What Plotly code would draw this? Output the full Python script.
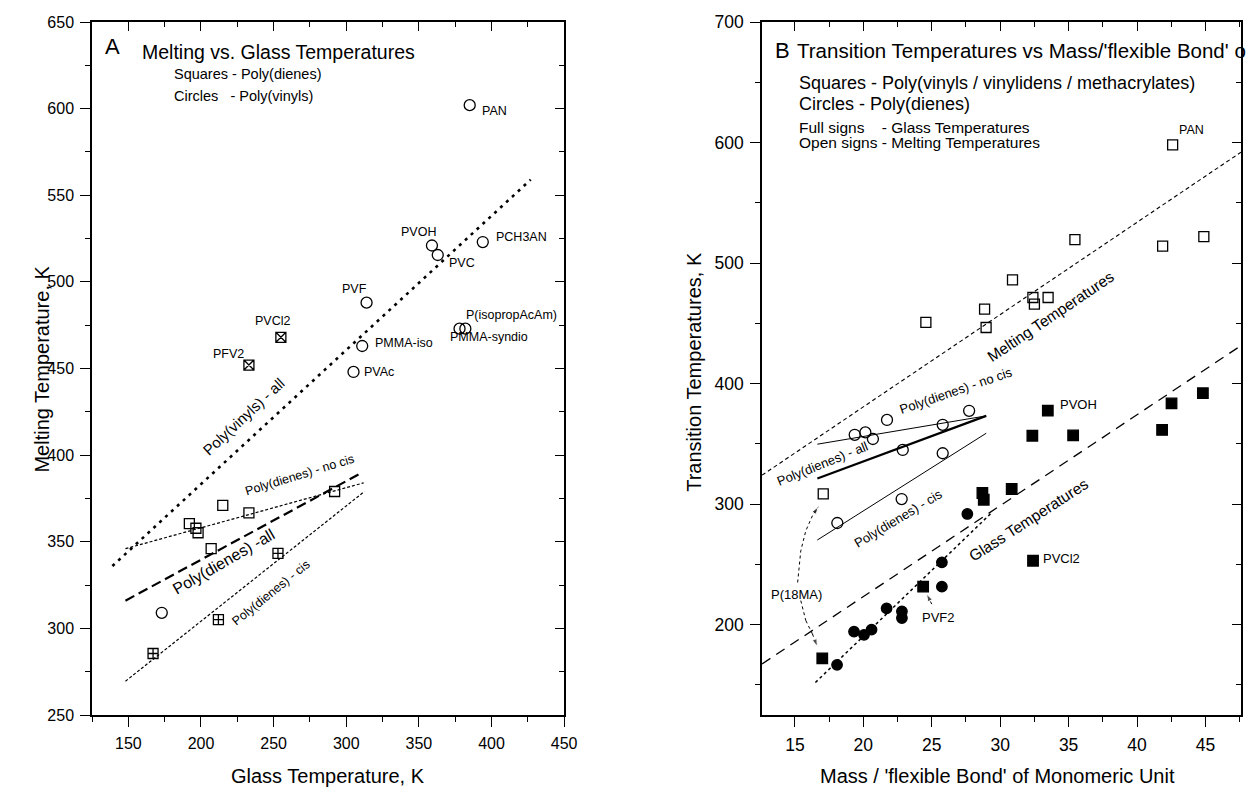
import plotly.graph_objects as go

FONT = "Liberation Sans, Arial, Helvetica, sans-serif"
W, H = 1260, 789
MT, MB = 22, 74

# ---------------- Panel A data ----------------
vinyl_names = ["PAN", "PCH3AN", "PVOH", "PVC", "PVF", "PMMA-iso", "PVAc", "P(isopropAcAm)", "PMMA-syndio", ""]
vinyl_tg = [385, 394, 359, 363, 314, 311, 305, 382, 378, 173]
vinyl_tm = [602, 523, 521, 515.5, 488, 463, 448, 473, 473, 309]

vinylidene_names = ["PVCl2", "PFV2"]
vinylidene_tg = [255, 233]
vinylidene_tm = [468, 452]

diene_tg = [192, 196.5, 198, 207, 215, 233, 292]
diene_tm = [360.5, 357.8, 355.2, 346, 371, 366.7, 379]

cis_diene_tg = [167, 212, 253]
cis_diene_tm = [285.5, 305, 343.3]

fitA_vinyl_x = [139, 427]
fitA_vinyl_y = [336, 559]
fitA_dienes_all_x = [148, 311]
fitA_dienes_all_y = [316, 390]
fitA_dienes_nocis_x = [148, 312]
fitA_dienes_nocis_y = [346, 384]
fitA_dienes_cis_x = [148, 312.5]
fitA_dienes_cis_y = [269.5, 379]

# point labels (text, x, y, anchor)
labelsA = [
    ("PAN", 392.3, 598.4, "left"),
    ("PCH3AN", 401.9, 526, "left"),
    ("PVOH", 349.7, 529, "center"),
    ("PVC", 369.6, 511, "left"),
    ("PVF", 305.7, 495.7, "center"),
    ("PVCl2", 249.2, 477.5, "center"),
    ("PFV2", 218.9, 458.5, "center"),
    ("PMMA-iso", 318.3, 464.6, "left"),
    ("PVAc", 311, 448, "left"),
    ("P(isopropAcAm)", 381.4, 481, "left"),
    ("PMMA-syndio", 369.8, 468, "left"),
]
# rotated line labels (text, x, y, angle, size)
lineLabelsA = [
    ("Poly(vinyls) - all", 229.3, 422.4, -43, 15),
    ("Poly(dienes) -all", 215.7, 338.8, -30, 16),
    ("Poly(dienes) - no cis", 268, 388.8, -17, 12.5),
    ("Poly(dienes) - cis", 248, 320.6, -39, 12.5),
]

# ---------------- Panel B data ----------------
vinyl_tm_mass = [17.07, 24.57, 28.86, 28.97, 30.9, 32.39, 32.5, 33.5, 35.46, 41.87, 44.88, 42.6]
vinyl_tm_B = [308.4, 450.7, 461.8, 446.5, 486.1, 471.4, 465.9, 471.4, 519.5, 514, 522, 598]

vinyl_tg_mass = [17.0, 24.37, 28.7, 28.8, 30.84, 32.35, 32.4, 33.48, 35.33, 41.83, 42.52, 44.81]
vinyl_tg_B = [172, 231.5, 309.2, 303.6, 312.5, 356.7, 253, 377.5, 357, 361.5, 383.5, 392]

diene_tm_mass = [18.1, 22.8, 19.37, 20.15, 20.7, 21.73, 25.8, 27.73, 22.88, 25.8]
diene_tm_B = [284.3, 304.2, 357.5, 359.5, 354, 369.8, 365.8, 377.4, 344.9, 342.2]

diene_tg_mass = [18.08, 19.32, 20.05, 20.6, 21.7, 22.82, 22.82, 25.74, 25.74, 27.6]
diene_tg_B = [166.6, 194.2, 191.5, 195.9, 213.5, 211, 205.5, 251.7, 231.5, 291.8]

fitB_melt_x = [12.6, 47.6]
fitB_melt_y = [324, 592]
fitB_glass_x = [12.6, 47.6]
fitB_glass_y = [167.4, 431.5]
fitB_glassdata_x = [16.5, 29.3]
fitB_glassdata_y = [152, 292]
fitB_nocis_x = [16.64, 28.98]
fitB_nocis_y = [349.7, 373.2]
fitB_all_x = [16.64, 28.98]
fitB_all_y = [321.3, 373.2]
fitB_cis_x = [16.64, 28.98]
fitB_cis_y = [270.2, 358.8]

labelsB = [
    ("PAN", 44.0, 610, 12.5),
    ("PVOH", 35.7, 382.4, 13),
    ("PVCl2", 34.47, 255.2, 13),
    ("PVF2", 25.5, 205.5, 13),
    ("P(18MA)", 15.15, 225.4, 13),
]
lineLabelsB = [
    ("Melting Temperatures", 33.67, 455.9, -34, 15.5),
    ("Glass Temperatures", 32.1, 287.6, -33, 15.5),
    ("Poly(dienes) - no cis", 26.8, 394, -19, 13),
    ("Poly(dienes) - all", 17.05, 333.7, -22, 13),
    ("Poly(dienes) - cis", 22.54, 288.4, -31, 13),
]
# dotted pointer paths
arrow_up_x = [15.2, 15.43, 15.8, 16.28, 16.71]
arrow_up_y = [235, 261.3, 277.9, 290.3, 297.8]
arrow_dn_x = [15.43, 15.8, 16.28, 16.64]
arrow_dn_y = [219.9, 203.3, 192.3, 181.8]
arrow_pvf2_x = [25.0, 24.62]
arrow_pvf2_y = [217, 225.4]

rangeA_x = [125, 450]
rangeA_y = [250, 650]
rangeB_x = [12.6, 47.6]
rangeB_y = [125, 700]

fig = go.Figure()


def line(x, y, xa, ya, dash, width):
    fig.add_trace(go.Scatter(x=x, y=y, xaxis=xa, yaxis=ya, mode="lines",
                             line=dict(color="black", dash=dash, width=width),
                             hoverinfo="skip", showlegend=False))


def pts(x, y, xa, ya, symbol, size, lw=1.3):
    fig.add_trace(go.Scatter(x=x, y=y, xaxis=xa, yaxis=ya, mode="markers",
                             marker=dict(symbol=symbol, size=size, color="black",
                                         line=dict(color="black", width=lw)),
                             showlegend=False))


# Panel A lines
line(fitA_vinyl_x, fitA_vinyl_y, "x", "y", "3px,5px", 2.6)
line(fitA_dienes_all_x, fitA_dienes_all_y, "x", "y", "10px,5px", 2.2)
line(fitA_dienes_nocis_x, fitA_dienes_nocis_y, "x", "y", "3px,2px", 1.2)
line(fitA_dienes_cis_x, fitA_dienes_cis_y, "x", "y", "3px,2px", 1.2)
# Panel A points
pts(vinyl_tg, vinyl_tm, "x", "y", "circle-open", 11)
pts(vinylidene_tg, vinylidene_tm, "x", "y", "square-x-open", 10)
pts(diene_tg, diene_tm, "x", "y", "square-open", 10)
pts(cis_diene_tg, cis_diene_tm, "x", "y", "square-cross-open", 10)

# Panel B lines
line(fitB_melt_x, fitB_melt_y, "x2", "y2", "4px,3px", 1.1)
line(fitB_glass_x, fitB_glass_y, "x2", "y2", "10px,7px", 1.3)
line(fitB_glassdata_x, fitB_glassdata_y, "x2", "y2", "dot", 1.5)
line(fitB_nocis_x, fitB_nocis_y, "x2", "y2", "solid", 1.0)
line(fitB_all_x, fitB_all_y, "x2", "y2", "solid", 2.2)
line(fitB_cis_x, fitB_cis_y, "x2", "y2", "solid", 1.0)
# pointers
for ax_, ay_ in [(arrow_up_x, arrow_up_y), (arrow_dn_x, arrow_dn_y), (arrow_pvf2_x, arrow_pvf2_y)]:
    n = len(ax_)
    fig.add_trace(go.Scatter(x=ax_, y=ay_, xaxis="x2", yaxis="y2", mode="lines+markers",
                             line=dict(color="black", dash="dot", width=1),
                             marker=dict(symbol="arrow", size=[0] * (n - 1) + [8],
                                         angleref="previous", color="black"),
                             hoverinfo="skip", showlegend=False))
# Panel B points
pts(vinyl_tm_mass, vinyl_tm_B, "x2", "y2", "square-open", 10)
pts(vinyl_tg_mass, vinyl_tg_B, "x2", "y2", "square", 10.5)
pts(diene_tm_mass, diene_tm_B, "x2", "y2", "circle-open", 11)
pts(diene_tg_mass, diene_tg_B, "x2", "y2", "circle", 10.5)

# invisible traces to register mirror-tick axes
fig.add_trace(go.Scatter(x=rangeA_x, y=rangeA_y, xaxis="x3", yaxis="y3", mode="markers",
                         marker=dict(opacity=0), hoverinfo="skip", showlegend=False))
fig.add_trace(go.Scatter(x=rangeB_x, y=rangeB_y, xaxis="x4", yaxis="y4", mode="markers",
                         marker=dict(opacity=0), hoverinfo="skip", showlegend=False))

domA = [93 / W, 570 / W]
domB = [770 / W, 1254 / W]

common = dict(showgrid=False, zeroline=False, showline=True, linecolor="black", linewidth=1.6,
              tickcolor="black", tickwidth=1.3)


def main_axis(rng, dtick, mdtick, size, **kw):
    d = dict(common)
    d.update(range=rng, dtick=dtick, tick0=0, ticks="outside", ticklen=10,
             tickfont=dict(family=FONT, size=size, color="black"), ticklabelstandoff=3,
             minor=dict(dtick=mdtick, tick0=0, ticks="outside", ticklen=5, tickcolor="black", tickwidth=1.1))
    d.update(kw)
    return d


def mirror_axis(rng, dtick, mdtick, **kw):
    d = dict(common)
    d.update(range=rng, dtick=dtick, tick0=0, ticks="inside", ticklen=9, showticklabels=False,
             minor=dict(dtick=mdtick, tick0=0, ticks="inside", ticklen=5, tickcolor="black", tickwidth=1.1))
    d.update(kw)
    return d


fig.update_layout(
    width=W, height=H, autosize=False,
    margin=dict(l=0, r=0, t=MT, b=MB, pad=0),
    paper_bgcolor="white", plot_bgcolor="white",
    showlegend=False,
    font=dict(family=FONT, color="black"),
    xaxis=main_axis(rangeA_x, 50, 25, 16, domain=domA, anchor="y"),
    yaxis=main_axis(rangeA_y, 50, 25, 16, domain=[0, 1], anchor="x"),
    xaxis2=main_axis(rangeB_x, 5, 2.5, 17.5, domain=domB, anchor="y2"),
    yaxis2=main_axis(rangeB_y, 100, 50, 17.5, domain=[0, 1], anchor="x2"),
    xaxis3=mirror_axis(rangeA_x, 50, 25, overlaying="x", side="top", anchor="y"),
    yaxis3=mirror_axis(rangeA_y, 50, 25, overlaying="y", side="right", anchor="x"),
    xaxis4=mirror_axis(rangeB_x, 5, 2.5, overlaying="x2", side="top", anchor="y2"),
    yaxis4=mirror_axis(rangeB_y, 100, 50, overlaying="y2", side="right", anchor="x2"),
)


def px_x(px):
    return px / W


def px_y(py):
    return (H - MB - py) / (H - MB - MT)


ann = []


def paper_text(text, px, py, size, anchor="left", angle=0):
    ann.append(dict(text=text, x=px_x(px), y=px_y(py), xref="paper", yref="paper",
                    xanchor=anchor, yanchor="middle", showarrow=False, textangle=angle,
                    font=dict(family=FONT, size=size, color="black")))


def data_text(text, x, y, xr, yr, size, anchor="center", angle=0):
    ann.append(dict(text=text, x=x, y=y, xref=xr, yref=yr, xanchor=anchor, yanchor="middle",
                    showarrow=False, textangle=angle,
                    font=dict(family=FONT, size=size, color="black")))


# axis titles
paper_text("Melting Temperature, K", 42, 369, 20, "center", -90)
paper_text("Glass Temperature, K", 331, 776, 20, "center")
paper_text("Transition Temperatures, K", 701, 372, 20, "center", -90)
paper_text("Mass / 'flexible Bond' of Monomeric Unit", 1008, 776, 20, "center")

# panel A headings
paper_text("A", 113.5, 46.7, 22, "center")
paper_text("Melting vs. Glass Temperatures", 141.7, 51.7, 19.5)
paper_text("Squares - Poly(dienes)", 173.3, 74, 14.5)
paper_text("Circles\u00a0\u00a0\u00a0- Poly(vinyls)", 173.3, 95.7, 14.5)

# panel B headings
paper_text("B", 790.5, 50.8, 22, "center")
paper_text("Transition Temperatures vs Mass/'flexible Bond' o", 803.7, 50.8, 20.5)
paper_text("Squares - Poly(vinyls / vinylidens / methacrylates)", 805, 83.2, 18)
paper_text("Circles - Poly(dienes)", 805, 103.7, 18)
paper_text("Full signs\u00a0\u00a0\u00a0\u00a0- Glass Temperatures", 805, 127.5, 15.5)
paper_text("Open signs - Melting Temperatures", 805, 142.6, 15.5)

for t, x, y, a in labelsA:
    data_text(t, x, y, "x", "y", 12.5, a)
for t, x, y, ang, s in lineLabelsA:
    data_text(t, x, y, "x", "y", s, "center", ang)
for t, x, y, s in labelsB:
    data_text(t, x, y, "x2", "y2", s, "center")
for t, x, y, ang, s in lineLabelsB:
    data_text(t, x, y, "x2", "y2", s, "center", ang)

fig.update_layout(annotations=ann)
fig.write_html("out.html", config={"displayModeBar": False},
               post_script="document.body.style.margin='0';document.body.style.overflow='hidden';")
